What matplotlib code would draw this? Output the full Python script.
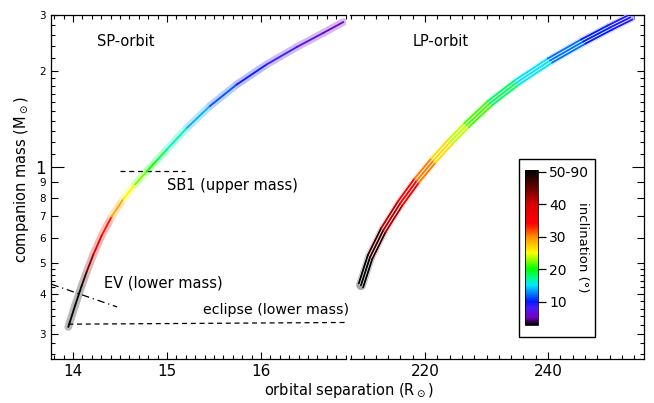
import numpy as np
import matplotlib
matplotlib.use('Agg')
import matplotlib.pyplot as plt
from matplotlib.collections import LineCollection
from matplotlib.colors import LinearSegmentedColormap, Normalize
from matplotlib.patches import Rectangle
from matplotlib.ticker import FixedLocator, FixedFormatter, NullFormatter
from matplotlib.cm import ScalarMappable

# short-period orbit: separation (Rsun), companion mass (Msun), inclination (deg)
sp_sep = [13.950, 14.021, 14.093, 14.146, 14.216, 14.305, 14.412, 14.535, 14.660, 14.784,
          14.890, 14.997, 15.210, 15.457, 15.741, 16.060, 16.380, 16.663, 16.876]
sp_mass = [0.315, 0.367, 0.425, 0.470, 0.531, 0.610, 0.700, 0.794, 0.882, 0.969,
           1.048, 1.135, 1.326, 1.555, 1.815, 2.099, 2.380, 2.636, 2.852]
sp_incl = [60, 55, 50, 46, 41, 36, 31, 27, 23.5, 21,
           19.5, 17.5, 15, 12.5, 10.5, 9, 7.5, 6, 5]

# long-period orbit (central solution)
lp_sep = [209.59, 211.06, 213.22, 215.93, 218.65, 221.35, 224.07, 226.78, 230.57,
          234.91, 240.33, 245.74, 250.08, 253.33]
lp_mass = [0.426, 0.522, 0.634, 0.768, 0.907, 1.048, 1.198, 1.355, 1.588,
           1.842, 2.160, 2.477, 2.741, 2.946]
lp_incl = [55, 50, 45, 38, 33, 28, 25, 22.5, 20, 16.5, 13.5, 11, 9.5, 9]
# spread of the two outer solutions
lp_sep_spread = 0.35
lp_mass_spread = 1.015

# constraint lines
sb1_sep = [14.5, 15.19]
sb1_mass = [0.97, 0.97]
ev_sep = [13.77, 14.47]
ev_mass = [0.429, 0.364]
ecl_sep = [13.95, 16.9]
ecl_mass = [0.3215, 0.3255]

mass_major = [3, 2, 1, 0.9, 0.8, 0.7, 0.6, 0.5, 0.4, 0.3]
mass_labels = ['3', '2', '1', '9', '8', '7', '6', '5', '4', '3']
mass_minor = [2.8, 2.6, 2.4, 2.2, 1.9, 1.8, 1.7, 1.6, 1.5, 1.4, 1.3, 1.2, 1.1,
              0.48, 0.46, 0.44, 0.42, 0.38, 0.36, 0.34, 0.32, 0.28, 0.26]

cbar_ticks = [10, 20, 30, 40, 50]
cbar_labels = ['10', '20', '30', '40', '50-90']

# inclination colour scale
vmin, vmax = 2.8, 50.5
anchors = [(2.8, (0, 0, 0)), (5, (0.45, 0.0, 0.75)), (8, (0.3, 0.1, 1.0)),
           (10, (0.0, 0.1, 1.0)), (12.5, (0.0, 0.5, 1.0)), (15, (0.0, 0.9, 1.0)),
           (17.5, (0.0, 1.0, 0.5)), (20, (0.0, 1.0, 0.0)), (25, (1.0, 1.0, 0.0)),
           (30, (1.0, 0.55, 0.0)), (34, (1.0, 0.0, 0.0)), (40, (0.85, 0.0, 0.0)),
           (45, (0.4, 0.0, 0.0)), (50.5, (0, 0, 0))]
norm = Normalize(vmin, vmax)
cmap = LinearSegmentedColormap.from_list(
    'incl', [(float(norm(v)), c) for v, c in anchors])

plt.rcParams['font.family'] = 'DejaVu Sans'


def colored_line(ax, x, y, c, lw, light=0.0, zorder=2):
    # one segment per pair of points, coloured by the mean inclination;
    # light > 0 blends the colours towards white (for the error band)
    pts = np.column_stack([x, y])
    segs = np.stack([pts[:-1], pts[1:]], axis=1)
    cval = 0.5 * (np.asarray(c[:-1]) + np.asarray(c[1:]))
    cols = cmap(norm(cval))
    cols[:, :3] = 1 - (1 - light) * (1 - cols[:, :3])
    lc = LineCollection(segs, colors=cols, linewidths=lw, zorder=zorder,
                        capstyle='round', joinstyle='round')
    ax.add_collection(lc)
    return lc


def style_axis(ax):
    ax.set_yscale('log')
    ax.set_ylim(0.25, 3)
    ax.yaxis.set_major_locator(FixedLocator(mass_major))
    ax.yaxis.set_minor_locator(FixedLocator(mass_minor))
    ax.yaxis.set_minor_formatter(NullFormatter())
    ax.tick_params(which='both', direction='in', top=True, width=0.8,
                   labelsize=11)
    ax.tick_params(which='major', length=5)
    ax.tick_params(which='minor', length=3)
    for s in ax.spines.values():
        s.set_linewidth(0.9)


fig = plt.figure(figsize=(6.54, 4.03), dpi=100)
bottom = 1 - 359 / 403
height = 344 / 403
ax1 = fig.add_axes([51 / 654, bottom, 295 / 654, height])
ax2 = fig.add_axes([350 / 654, bottom, 294 / 654, height])
ax2.patch.set_visible(False)

# ---- SP orbit
style_axis(ax1)
ax1.set_xlim(13.766, 16.904)
ax1.xaxis.set_major_locator(FixedLocator([14, 15, 16]))
ax1.xaxis.set_minor_locator(FixedLocator(np.arange(13.8, 16.95, 0.1)))
ax1.yaxis.set_major_formatter(FixedFormatter(mass_labels))
ax1.spines['right'].set_visible(False)
ax1.tick_params(which='both', right=False)
for lab in ax1.get_yticklabels():
    lab.set_fontsize(7.5)
ax1.get_yticklabels()[2].set_fontsize(12)
ax1.yaxis.get_major_ticks()[2].tick1line.set_markersize(9)

colored_line(ax1, sp_sep, sp_mass, sp_incl, lw=5.5, light=0.72)
colored_line(ax1, sp_sep, sp_mass, sp_incl, lw=1.3, zorder=3)

ax1.plot(sb1_sep, sb1_mass, 'k--', lw=0.9, dashes=(4, 3))
ax1.plot(ev_sep, ev_mass, 'k-.', lw=0.9, dashes=(6, 3, 1, 3))
ax1.plot(ecl_sep, ecl_mass, 'k--', lw=0.9, dashes=(4, 3))

ax1.text(14.255, 2.47, 'SP-orbit', fontsize=10.5, va='center')
ax1.text(15.0, 0.878, 'SB1 (upper mass)', fontsize=10.5, va='center')
ax1.text(14.33, 0.432, 'EV (lower mass)', fontsize=10.5, va='center')
ax1.text(15.38, 0.356, 'eclipse (lower mass)', fontsize=10.2, va='center',
         clip_on=False, zorder=5)

# ---- LP orbit
style_axis(ax2)
ax2.set_xlim(207.8, 255.6)
ax2.xaxis.set_major_locator(FixedLocator([220, 240]))
ax2.xaxis.set_minor_locator(FixedLocator(np.arange(208, 256, 2)))
ax2.yaxis.set_major_formatter(NullFormatter())
ax2.spines['left'].set_visible(False)
ax2.tick_params(which='both', left=False, right=True, labelleft=False)
ax2.yaxis.get_major_ticks()[2].tick2line.set_markersize(9)

lp_sep = np.asarray(lp_sep)
lp_mass = np.asarray(lp_mass)
colored_line(ax2, lp_sep, lp_mass, lp_incl, lw=7, light=0.65)
shifts = [(-lp_sep_spread, lp_mass_spread), (0, 1.0), (lp_sep_spread, 1 / lp_mass_spread)]
for dx, fm in shifts:
    ax2.plot(lp_sep + dx, lp_mass * fm, color='white', lw=2.3, zorder=3,
             solid_capstyle='butt')
for dx, fm in shifts:
    colored_line(ax2, lp_sep + dx, lp_mass * fm, lp_incl, lw=1.4, zorder=4)

ax2.text(218.05, 2.47, 'LP-orbit', fontsize=10.5, va='center')

# ---- inclination colour bar in a framed box
box = Rectangle((519 / 654, 1 - 337 / 403), 76 / 654, 178 / 403,
                transform=fig.transFigure, facecolor='white',
                edgecolor='black', lw=1.0, zorder=2)
fig.add_artist(box)
cax = fig.add_axes([525 / 654, 1 - 325 / 403, 13 / 654, 155 / 403])
cax.set_zorder(3)
cb = fig.colorbar(ScalarMappable(norm=norm, cmap=cmap), cax=cax)
cb.set_ticks(cbar_ticks)
cb.set_ticklabels(cbar_labels)
cb.outline.set_linewidth(0.6)
cax.tick_params(direction='out', length=6, width=0.9, labelsize=10, pad=2)
cax.text(4.4, 0.5, 'inclination (°)', rotation=270, fontsize=9.5,
         va='center', ha='center', transform=cax.transAxes)

fig.text(22 / 654, 1 - 180 / 403, 'companion mass (M$_\\odot$)', rotation=90,
         fontsize=10.5, va='center', ha='center')
fig.text(349 / 654, 1 - 391 / 403, 'orbital separation (R$_\\odot$)',
         fontsize=10.5, va='center', ha='center')

fig.savefig('out.png', dpi=100)
